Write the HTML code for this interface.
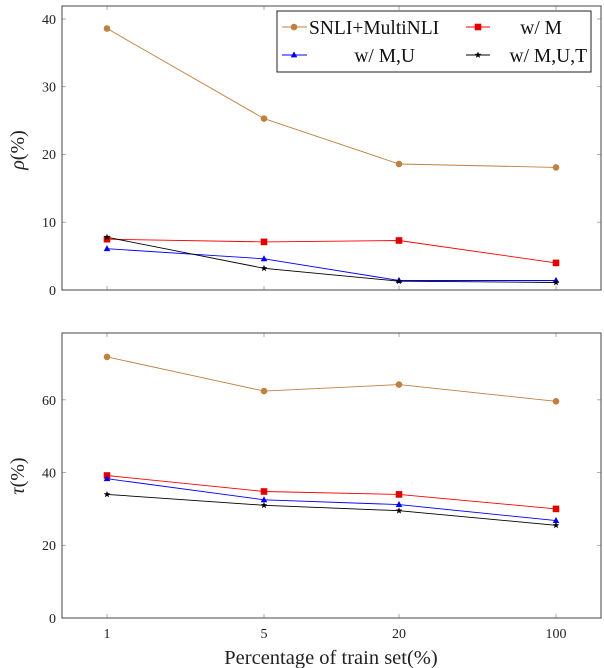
<!DOCTYPE html>
<html><head><meta charset="utf-8"><style>
html,body{margin:0;padding:0;background:#fff;}
svg{display:block;font-family:"Liberation Serif",serif;}
</style></head><body>
<svg width="604" height="668" viewBox="0 0 604 668" xmlns="http://www.w3.org/2000/svg">
<defs>
<g id="c"><circle r="3.3" fill="#bf8040"/></g>
<g id="s"><rect x="-3.3" y="-3.3" width="6.6" height="6.6" fill="#e00000"/></g>
<g id="t"><polygon points="0,-3.6 3.3,2.4 -3.3,2.4" fill="#0000ff"/></g>
<g id="k"><polygon points="0,-3.5 0.9,-1.2 3.3,-1.1 1.4,0.5 2.1,2.9 0,1.5 -2.1,2.9 -1.4,0.5 -3.3,-1.1 -0.9,-1.2" fill="#000"/></g>
</defs>
<!-- TOP -->
<g stroke="#999" stroke-width="0.8">
<line x1="107" y1="6" x2="107" y2="10"/><line x1="264" y1="6" x2="264" y2="10"/><line x1="399" y1="6" x2="399" y2="10"/><line x1="556" y1="6" x2="556" y2="10"/>
<line x1="107" y1="290" x2="107" y2="286"/><line x1="264" y1="290" x2="264" y2="286"/><line x1="399" y1="290" x2="399" y2="286"/><line x1="556" y1="290" x2="556" y2="286"/>
<line x1="62" y1="222.2" x2="66" y2="222.2"/><line x1="62" y1="154.5" x2="66" y2="154.5"/><line x1="62" y1="86.7" x2="66" y2="86.7"/><line x1="62" y1="19" x2="66" y2="19"/>
<line x1="601" y1="222.2" x2="597" y2="222.2"/><line x1="601" y1="154.5" x2="597" y2="154.5"/><line x1="601" y1="86.7" x2="597" y2="86.7"/><line x1="601" y1="19" x2="597" y2="19"/>
</g>
<rect x="62" y="6" width="539" height="284" fill="none" stroke="#444" stroke-width="1"/>
<g font-size="14" text-anchor="end" fill="#222">
<text x="56" y="295">0</text><text x="56" y="227">10</text><text x="56" y="159">20</text><text x="56" y="91.5">30</text><text x="56" y="24">40</text>
</g>
<text transform="translate(24,150) rotate(-90)" font-size="20" text-anchor="middle" fill="#222"><tspan font-style="italic">ρ</tspan>(%)</text>
<polyline points="107,28.5 264,118.6 399,164 556,167.4" fill="none" stroke="#bf8040" stroke-width="0.9"/>
<polyline points="107,239.2 264,241.9 399,240.5 556,262.9" fill="none" stroke="#ff0000" stroke-width="0.9"/>
<polyline points="107,248.7 264,258.8 399,280.5 556,280.5" fill="none" stroke="#0000ff" stroke-width="0.9"/>
<polyline points="107,237.2 264,268.3 399,281.2 556,282.5" fill="none" stroke="#000" stroke-width="0.9"/>
<use href="#c" x="107" y="28.5"/><use href="#c" x="264" y="118.6"/><use href="#c" x="399" y="164"/><use href="#c" x="556" y="167.4"/>
<use href="#s" x="107" y="239.2"/><use href="#s" x="264" y="241.9"/><use href="#s" x="399" y="240.5"/><use href="#s" x="556" y="262.9"/>
<use href="#t" x="107" y="248.7"/><use href="#t" x="264" y="258.8"/><use href="#t" x="399" y="280.5"/><use href="#t" x="556" y="280.5"/>
<use href="#k" x="107" y="237.2"/><use href="#k" x="264" y="268.3"/><use href="#k" x="399" y="281.2"/><use href="#k" x="556" y="282.5"/>
<!-- legend -->
<rect x="277" y="11" width="314" height="61" fill="#fff" stroke="#222" stroke-width="1"/>
<line x1="282" y1="27" x2="307" y2="27" stroke="#bf8040"/><use href="#c" x="294" y="27"/>
<text x="309" y="34" font-size="19.5" fill="#111">SNLI+MultiNLI</text>
<line x1="466" y1="27" x2="490" y2="27" stroke="#ff0000"/><use href="#s" x="478" y="27"/>
<text x="562" y="34" font-size="19.5" fill="#111" text-anchor="end">w/ M</text>
<line x1="282" y1="55" x2="307" y2="55" stroke="#0000ff"/><use href="#t" x="294" y="55"/>
<text x="415" y="62" font-size="19.5" fill="#111" text-anchor="end">w/ M,U</text>
<line x1="466" y1="55" x2="490" y2="55" stroke="#000"/><use href="#k" x="478" y="55"/>
<text x="587" y="62" font-size="19.5" fill="#111" text-anchor="end">w/ M,U,T</text>
<!-- BOTTOM -->
<g stroke="#999" stroke-width="0.8">
<line x1="107" y1="333" x2="107" y2="337"/><line x1="264" y1="333" x2="264" y2="337"/><line x1="399" y1="333" x2="399" y2="337"/><line x1="556" y1="333" x2="556" y2="337"/>
<line x1="107" y1="618" x2="107" y2="614"/><line x1="264" y1="618" x2="264" y2="614"/><line x1="399" y1="618" x2="399" y2="614"/><line x1="556" y1="618" x2="556" y2="614"/>
<line x1="62" y1="545.3" x2="66" y2="545.3"/><line x1="62" y1="472.6" x2="66" y2="472.6"/><line x1="62" y1="399.8" x2="66" y2="399.8"/>
<line x1="601" y1="545.3" x2="597" y2="545.3"/><line x1="601" y1="472.6" x2="597" y2="472.6"/><line x1="601" y1="399.8" x2="597" y2="399.8"/>
</g>
<rect x="62" y="333" width="539" height="285" fill="none" stroke="#444" stroke-width="1"/>
<g font-size="14" text-anchor="end" fill="#222">
<text x="56" y="623">0</text><text x="56" y="550">20</text><text x="56" y="477.5">40</text><text x="56" y="405">60</text>
</g>
<g font-size="14" text-anchor="middle" fill="#222">
<text x="107" y="638">1</text><text x="264" y="638">5</text><text x="399" y="638">20</text><text x="556" y="638">100</text>
</g>
<text x="331" y="664" font-size="20.5" text-anchor="middle" fill="#222">Percentage of train set(%)</text>
<text transform="translate(24,476) rotate(-90)" font-size="20" text-anchor="middle" fill="#222"><tspan font-style="italic">τ</tspan>(%)</text>
<polyline points="107,356.9 264,391.1 399,384.6 556,401.3" fill="none" stroke="#bf8040" stroke-width="0.9"/>
<polyline points="107,475.5 264,491.5 399,494.4 556,508.9" fill="none" stroke="#ff0000" stroke-width="0.9"/>
<polyline points="107,478.7 264,499.8 399,504.6 556,520.6" fill="none" stroke="#0000ff" stroke-width="0.9"/>
<polyline points="107,494.4 264,505.3 399,510.7 556,525.3" fill="none" stroke="#000" stroke-width="0.9"/>
<use href="#c" x="107" y="356.9"/><use href="#c" x="264" y="391.1"/><use href="#c" x="399" y="384.6"/><use href="#c" x="556" y="401.3"/>
<use href="#s" x="107" y="475.5"/><use href="#s" x="264" y="491.5"/><use href="#s" x="399" y="494.4"/><use href="#s" x="556" y="508.9"/>
<use href="#t" x="107" y="478.7"/><use href="#t" x="264" y="499.8"/><use href="#t" x="399" y="504.6"/><use href="#t" x="556" y="520.6"/>
<use href="#k" x="107" y="494.4"/><use href="#k" x="264" y="505.3"/><use href="#k" x="399" y="510.7"/><use href="#k" x="556" y="525.3"/>
</svg>
</body></html>
